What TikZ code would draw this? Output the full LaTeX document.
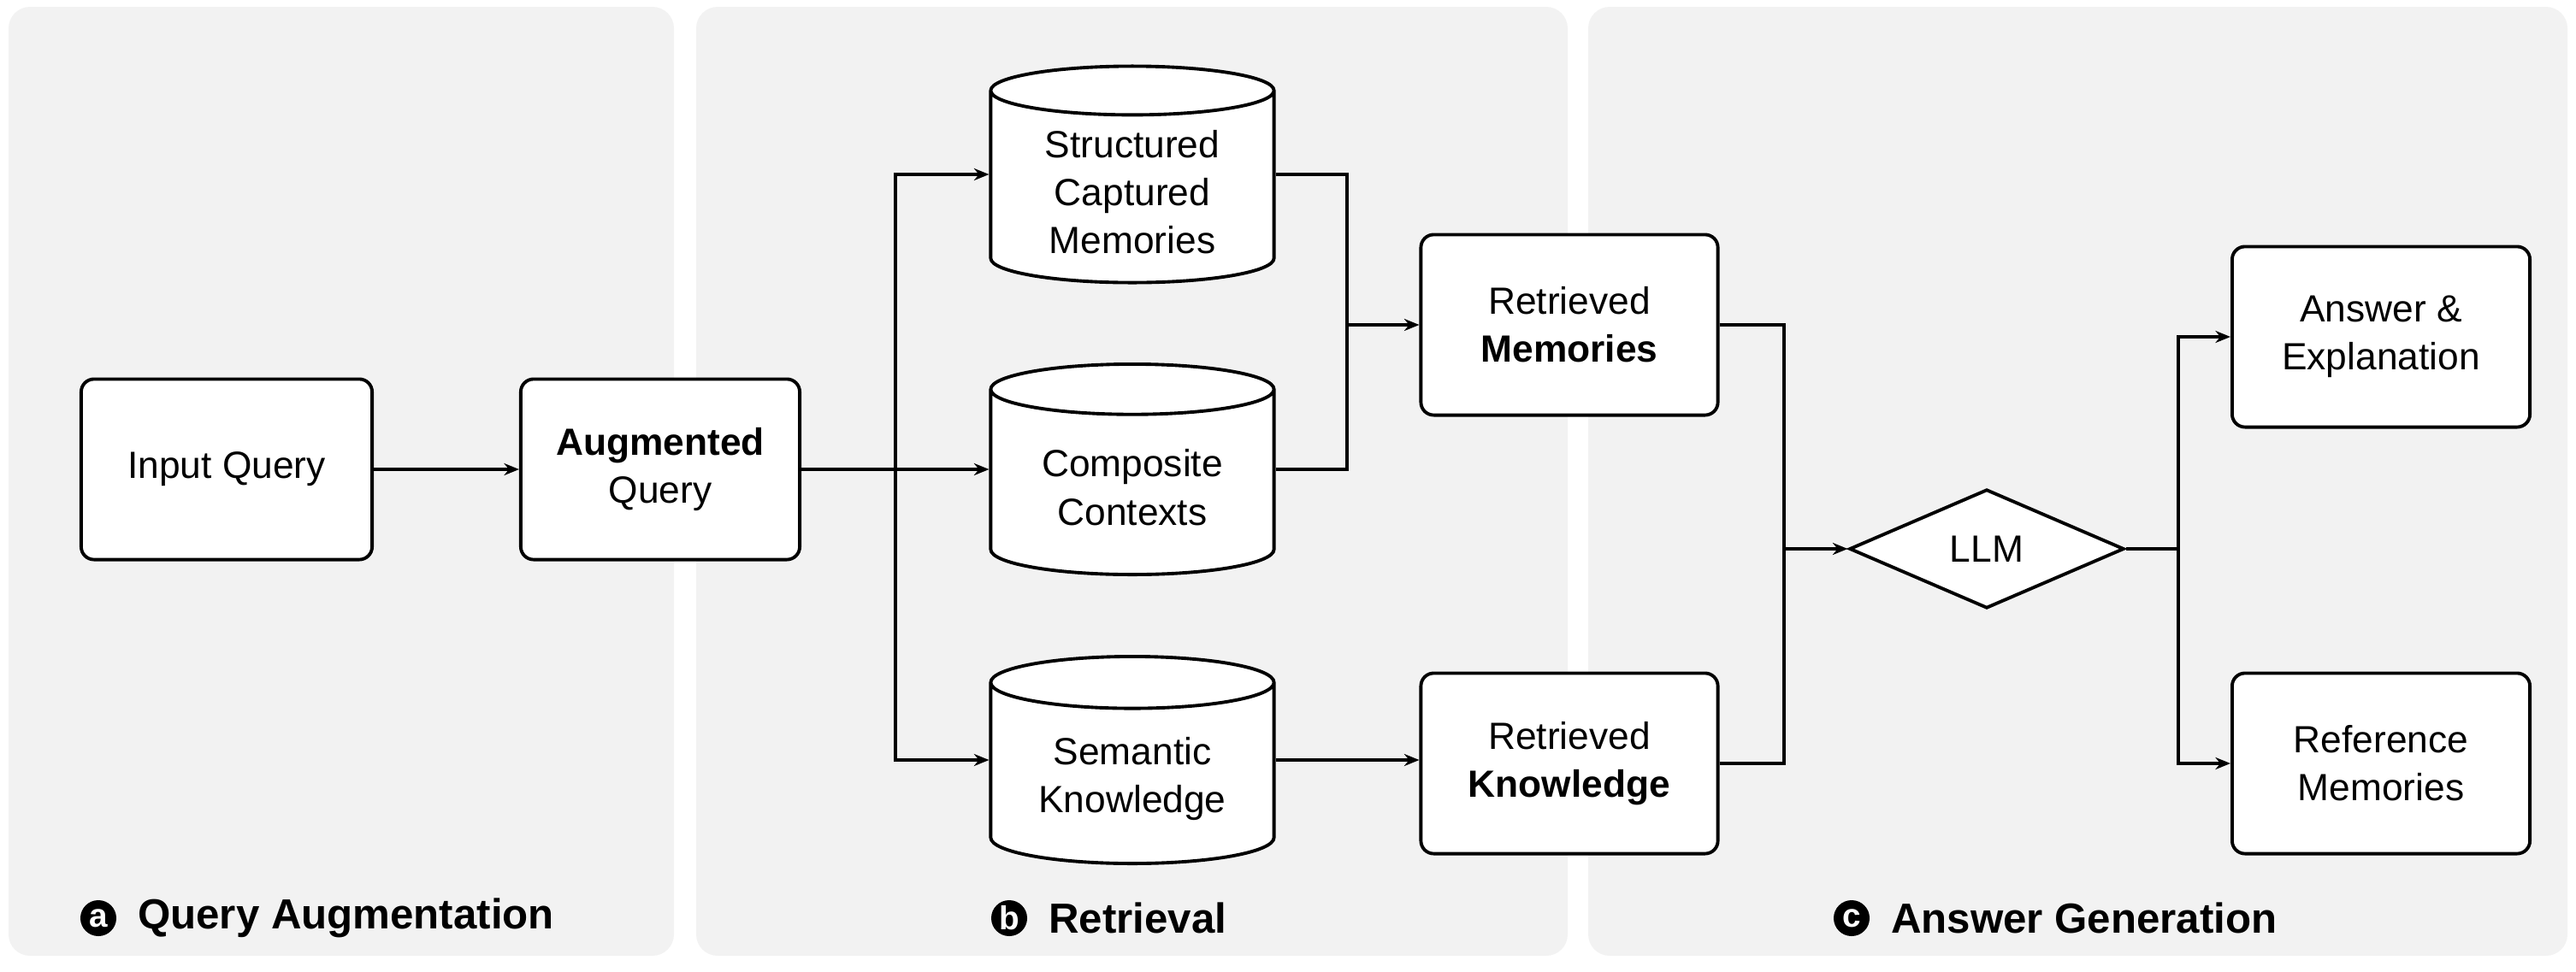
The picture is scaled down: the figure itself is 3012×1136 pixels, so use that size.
\documentclass[tikz,border=0pt]{standalone}
\usepackage{fontspec}
\setmainfont{Liberation Sans}
\usetikzlibrary{shapes.geometric,positioning,arrows.meta,calc}

\definecolor{panelgray}{HTML}{F2F2F2}

\begin{document}
\begin{tikzpicture}[
    x=0.01cm, y=-0.01cm,
    panel/.style={fill=panelgray, draw=none, rounded corners=0.25cm},
    box/.style={draw, fill=white, line width=1.1pt, rounded corners=0.15cm,
        minimum width=3.4cm, minimum height=2.11cm, align=center,
        font=\fontsize{12.6}{16}\selectfont},
    store/.style={draw, fill=white, line width=1.1pt, cylinder, shape border rotate=90,
        aspect=0.25, minimum width=3.31cm, align=center, anchor=shape center,
        font=\fontsize{12.6}{16}\selectfont},
    decision/.style={draw, fill=white, line width=1.1pt, diamond, aspect=2.31,
        minimum width=3.21cm, minimum height=1.39cm, inner sep=0pt,
        font=\fontsize{12.6}{16}\selectfont},
    letter/.style={circle, fill=black, text=white, inner sep=0pt, minimum size=0.42cm,
        font=\bfseries\fontsize{11}{11}\selectfont},
    title/.style={anchor=west, font=\bfseries\fontsize{14}{16}\selectfont},
    line/.style={line width=1.1pt},
    transition/.style={line, -{Stealth[length=5pt,width=4pt]}}
    ]
    \useasboundingbox (0,0) rectangle (3012,1136);
    \fill[panel] (10,8) rectangle (788,1118);
    \fill[panel] (814,8) rectangle (1833,1118);
    \fill[panel] (1857,8) rectangle (3002,1118);

    \node[box] (input) at (265,549) {Input Query};
    \node[box, minimum width=3.26cm] (augmented) at (772,549) {\textbf{Augmented}\\Query};

    \node[store, minimum height=2.53cm] (structured) at (1324,204) {Structured\\Captured\\Memories};
    \node[store, minimum height=2.46cm] (composite) at (1324,549) {Composite\\Contexts};
    \node[store, minimum height=2.42cm] (semantic) at (1324,889) {Semantic\\Knowledge};

    \node[box, minimum width=3.47cm] (retmem) at (1835,380) {Retrieved\\\textbf{Memories}};
    \node[box, minimum width=3.47cm] (retknow) at (1835,893) {Retrieved\\\textbf{Knowledge}};

    \node[decision] (llm) at (2323,642) {LLM};

    \node[box, minimum width=3.48cm] (answer) at (2784,394) {Answer \&\\Explanation};
    \node[box, minimum width=3.48cm] (reference) at (2784,893) {Reference\\Memories};

    \coordinate (split) at (1047,549);
    \coordinate (mergemem) at (1575,380);
    \coordinate (mergellm) at (2086,642);
    \coordinate (splitout) at (2547,642);

    \draw[transition] (input) -- (augmented);
    \draw[transition] (augmented) -- (composite.shape center -| composite.west);
    \draw[transition] (split) |- (structured.shape center -| structured.west);
    \draw[transition] (split) |- (semantic.shape center -| semantic.west);

    \draw[line] (structured.shape center -| structured.east) -| (mergemem);
    \draw[line] (composite.shape center -| composite.east) -| (mergemem);
    \draw[transition] (mergemem) -- (retmem);
    \draw[transition] (semantic.shape center -| semantic.east) -- (semantic.shape center -| retknow.west);

    \draw[line] (retmem.east) -| (mergellm);
    \draw[line] (retknow.east) -| (mergellm);
    \draw[transition] (mergellm) -- (llm);

    \draw[line] (llm.east) -- (splitout);
    \draw[transition] (splitout) |- (answer.west);
    \draw[transition] (splitout) |- (reference.west);

    \node[letter] (la) at (115,1074) {a};
    \node[title, right=0.12cm of la] (ta) {Query Augmentation};
    \node[letter] (lb) at (1180,1074) {b};
    \node[title, right=0.12cm of lb] (tb) {Retrieval};
    \node[letter] (lc) at (2165,1074) {c};
    \node[title, right=0.12cm of lc] (tc) {Answer Generation};
  \end{tikzpicture}
\end{document}
